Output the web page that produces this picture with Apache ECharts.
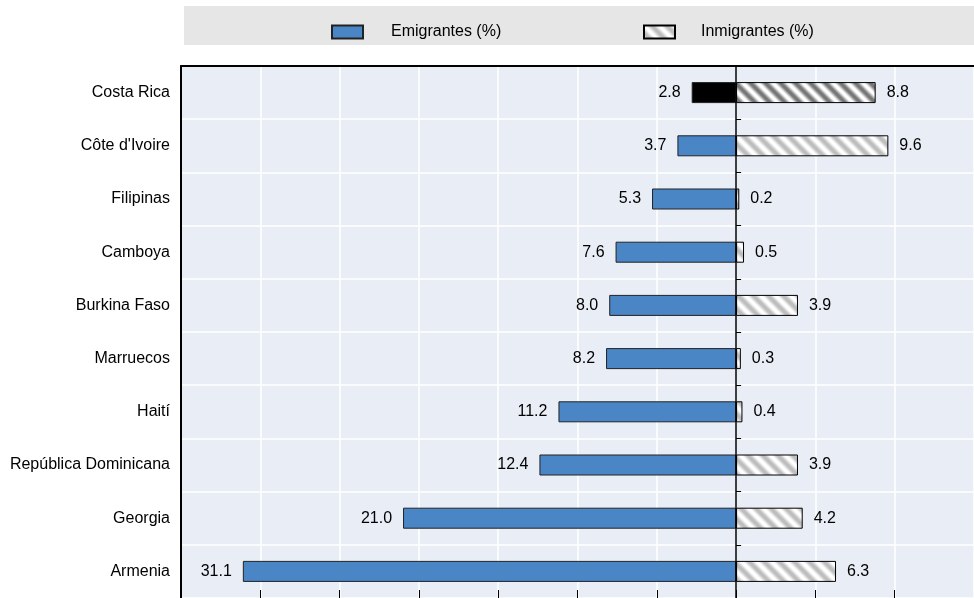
<!DOCTYPE html>
<html><head><meta charset="utf-8">
<script src="https://cdn.jsdelivr.net/npm/echarts@6/dist/echarts.min.js"></script>
<style>html,body{margin:0;padding:0;background:#fff}#c{width:974px;height:598px}</style>
</head><body><div id="c"></div>
<script>
const categories = ["Costa Rica","Côte d'Ivoire","Filipinas","Camboya","Burkina Faso","Marruecos","Haití","República Dominicana","Georgia","Armenia"];
const emigrantes = [2.8,3.7,5.3,7.6,8.0,8.2,11.2,12.4,21.0,31.1];
const inmigrantes = [8.8,9.6,0.2,0.5,3.9,0.3,0.4,3.9,4.2,6.3];
const seriesNames = ["Emigrantes (%)","Inmigrantes (%)"];
const highlight = "Costa Rica";

function hatch(dark){
  const s=15, c=document.createElement('canvas'); c.width=s; c.height=s;
  const ctx=c.getContext('2d'); const img=ctx.createImageData(s,s);
  const base = dark?120:190;
  for(let y=0;y<s;y++)for(let x=0;x<s;x++){
    let d=((x-y)%s+s)%s; let t=Math.abs(d-s/2)/(s/2); // 0 center ->1 edge
    let k=Math.max(0,Math.min(1,(1-t)*1.6-0.3));
    let v=Math.round(255-(255-base)*k);
    const i=(y*s+x)*4; img.data[i]=v;img.data[i+1]=v;img.data[i+2]=v;img.data[i+3]=255;
  }
  ctx.putImageData(img,0,0);
  return {image:c,repeat:'repeat'};
}
const hatchLight=hatch(false), hatchDark=hatch(true);
const blue='#4A86C6';
const font="'Liberation Sans', Arial, sans-serif";

const emiData=emigrantes.map((v,i)=>({value:-v,itemStyle:categories[i]===highlight?{color:'#000'}:undefined}));
const inmiData=inmigrantes.map((v,i)=>({value:v,itemStyle:categories[i]===highlight?{color:hatchDark}:undefined}));

const chart=echarts.init(document.getElementById('c'),null,{renderer:'canvas'});
chart.setOption({
  animation:false,
  textStyle:{fontFamily:font},
  graphic:[{type:'rect',shape:{x:184,y:6,width:790,height:39},style:{fill:'#E6E6E6'},z:-1}],
  legend:[
    {data:[{name:seriesNames[0],icon:'rect'}],left:326,top:19,itemWidth:31,itemHeight:13,
     textStyle:{fontSize:16,color:'#000',padding:[0,0,0,23],fontFamily:font}},
    {data:[{name:seriesNames[1],icon:'rect'}],left:638,top:19,itemWidth:31,itemHeight:13,
     textStyle:{fontSize:16,color:'#000',padding:[0,0,0,21],fontFamily:font}}
  ],
  grid:{left:181,top:66,width:794,height:533,show:true,backgroundColor:'#E9EDF6',borderWidth:0,containLabel:false},
  xAxis:[
    {type:'value',min:-35,max:15,interval:5,position:'bottom',
    axisLine:{show:false},axisLabel:{show:false},
    axisTick:{show:true,inside:true,length:8,lineStyle:{color:'#000',width:1}},
    splitLine:{show:true,lineStyle:{color:'#fff',width:1.5}}},
    {type:'value',min:-35,max:15,interval:5,position:'top',
    axisLine:{show:true,onZero:false,lineStyle:{color:'#000',width:2}},axisLabel:{show:false},
    axisTick:{show:false},splitLine:{show:false}}
  ],
  yAxis:[
    {type:'category',data:categories,inverse:true,
     axisLine:{show:true,onZero:false,lineStyle:{color:'#000',width:2}},axisTick:{show:false},
     axisLabel:{fontSize:16,color:'#000',margin:11,fontFamily:font},
     splitLine:{show:true,lineStyle:{color:'#fff',width:1.5}}},
    {type:'category',data:categories,inverse:true,position:'left',z:10,
     axisLine:{show:true,onZero:true,lineStyle:{color:'#000',width:1.5}},
     axisTick:{show:true,inside:true,length:5,lineStyle:{color:'#000',width:1}},
     axisLabel:{show:false},splitLine:{show:false}}
  ],
  series:[
    {name:seriesNames[0],type:'bar',stack:'t',data:emiData,barWidth:21,
     itemStyle:{color:blue,borderColor:'#222',borderWidth:1},
     label:{show:true,position:'left',distance:11,fontSize:16,color:'#000',fontFamily:font,
       formatter:p=>Math.abs(p.value).toFixed(1)}},
    {name:seriesNames[1],type:'bar',stack:'t',data:inmiData,barWidth:21,
     itemStyle:{color:hatchLight,borderColor:'#000',borderWidth:1},
     label:{show:true,position:'right',distance:11,fontSize:16,color:'#000',fontFamily:font,
       formatter:p=>Math.abs(p.value).toFixed(1)}}
  ]
});
</script></body></html>
